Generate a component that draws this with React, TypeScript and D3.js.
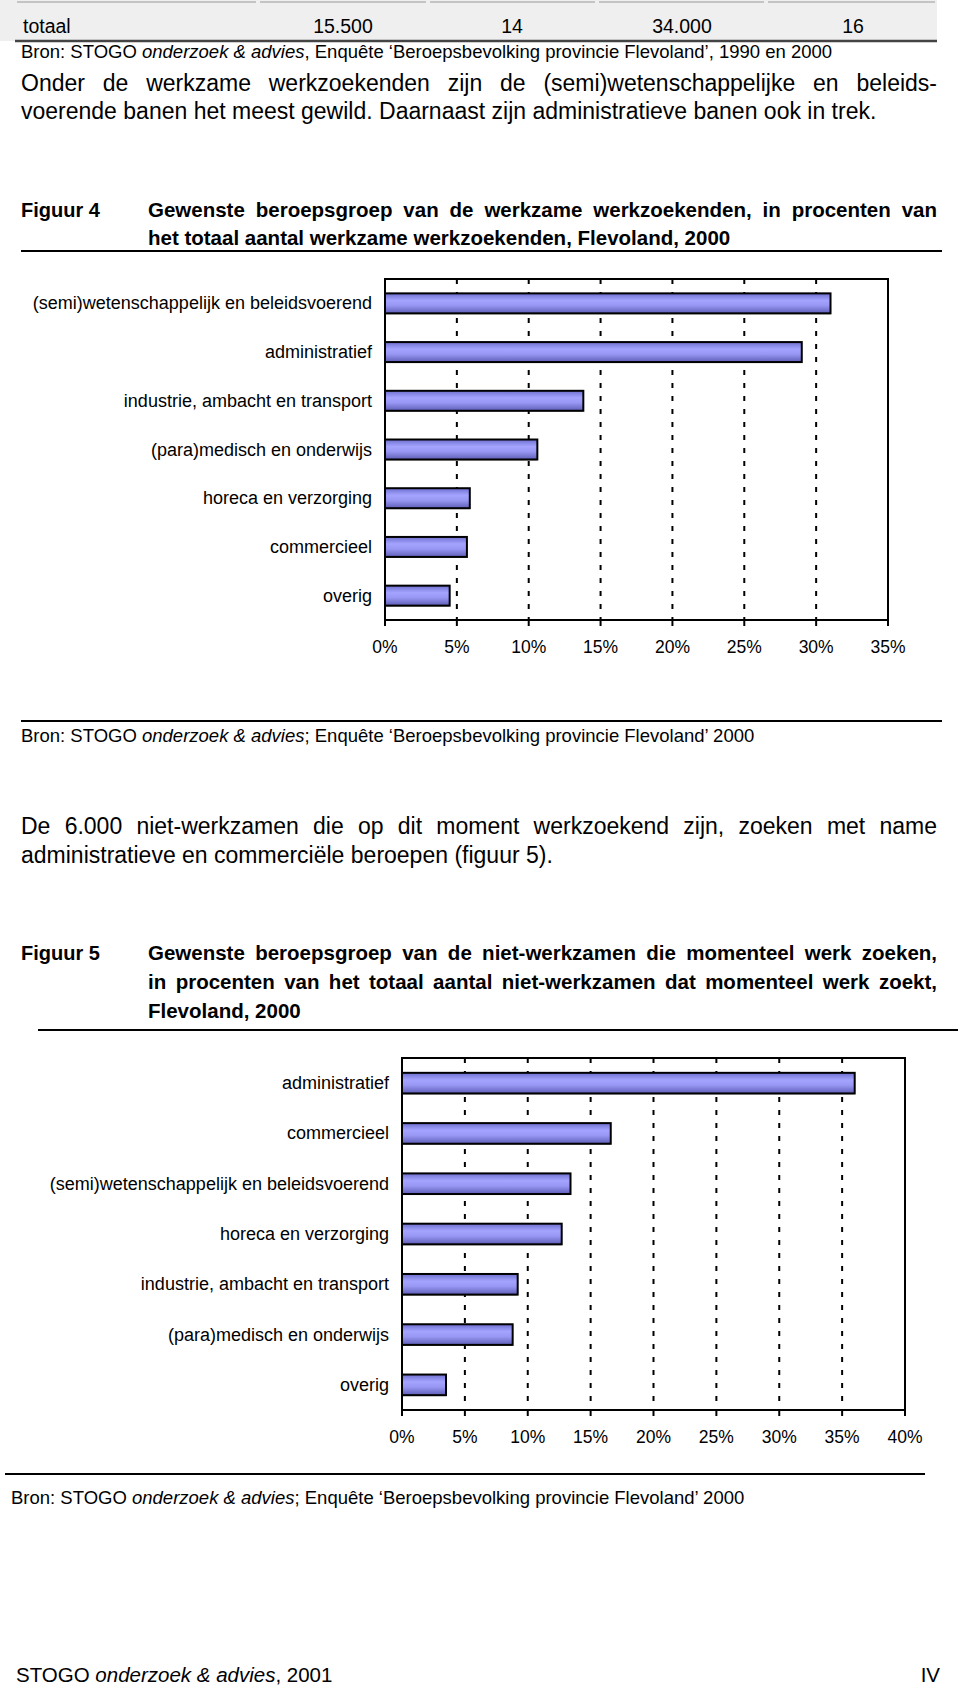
import React from "react";
import { scaleLinear, scaleBand } from "d3";

const width = 960;
const height = 1688;
const font = "'Liberation Sans', Arial, sans-serif";

// top table row
const totalRow = ["totaal", "15.500", "14", "34.000", "16"];
const totalColX = [23, 343, 512, 682, 853];
const totalColEdges = [15, 258, 428, 597, 766, 937];

// figuur 4
const fig4Categories = [
  "(semi)wetenschappelijk en beleidsvoerend",
  "administratief",
  "industrie, ambacht en transport",
  "(para)medisch en onderwijs",
  "horeca en verzorging",
  "commercieel",
  "overig",
];
const fig4Values = [31.0, 29.0, 13.8, 10.6, 5.9, 5.7, 4.5];
const fig4Ticks = [0, 5, 10, 15, 20, 25, 30, 35];

// figuur 5
const fig5Categories = [
  "administratief",
  "commercieel",
  "(semi)wetenschappelijk en beleidsvoerend",
  "horeca en verzorging",
  "industrie, ambacht en transport",
  "(para)medisch en onderwijs",
  "overig",
];
const fig5Values = [36.0, 16.6, 13.4, 12.7, 9.2, 8.8, 3.5];
const fig5Ticks = [0, 5, 10, 15, 20, 25, 30, 35, 40];

let ctx: CanvasRenderingContext2D | null = null;
const measure = (text: string, f: string) => {
  if (!ctx) ctx = document.createElement("canvas").getContext("2d");
  ctx!.font = f;
  return ctx!.measureText(text).width;
};

// justified line: spread the extra room over the word gaps
const Justified = ({ text, x, x2, y, size, bold = false }: any) => {
  const natural = measure(text, `${bold ? "bold " : ""}${size}px 'Liberation Sans'`);
  const gaps = text.split(" ").length - 1;
  const ws = gaps > 0 ? (x2 - x - natural) / gaps : 0;
  return (
    <text x={x} y={y} fontSize={size} fontWeight={bold ? "bold" : "normal"} style={{ wordSpacing: `${ws}px` }}>
      {text}
    </text>
  );
};

const Bron = ({ x, y, rest }: any) => (
  <text x={x} y={y} fontSize={18.5}>
    Bron: STOGO <tspan fontStyle="italic">onderzoek &amp; advies</tspan>
    {rest}
  </text>
);

const BarChart = ({ categories, values, ticks, left, right, top, bottom }: any) => {
  const x = scaleLinear().domain([0, ticks[ticks.length - 1]]).range([left, right]);
  const y = scaleBand().domain(categories).range([top, bottom]).paddingInner(0.59).paddingOuter(0.295);
  return (
    <g>
      {ticks.slice(1, -1).map((t: number) => (
        <line key={t} x1={x(t)} x2={x(t)} y1={top} y2={bottom} stroke="#000" strokeWidth={2} strokeDasharray="5,8" />
      ))}
      {categories.map((c: string, i: number) => (
        <g key={c}>
          <rect x={x(0)} y={y(c)! + 1} width={x(values[i]) - x(0)} height={y.bandwidth()} fill="#333" opacity={0.5} />
          <rect
            x={x(0)}
            y={y(c)}
            width={x(values[i]) - x(0)}
            height={y.bandwidth()}
            fill="url(#barGrad)"
            stroke="#000"
            strokeWidth={2}
          />
          <text x={left - 13} y={y(c)! + y.bandwidth() / 2 + 6} textAnchor="end" fontSize={18}>
            {c}
          </text>
        </g>
      ))}
      <rect x={left} y={top} width={right - left} height={bottom - top} fill="none" stroke="#000" strokeWidth={2} />
      {ticks.map((t: number) => (
        <g key={t}>
          <line x1={x(t)} x2={x(t)} y1={bottom} y2={bottom + 6} stroke="#000" strokeWidth={2} />
          <text x={x(t)} y={bottom + 33} textAnchor="middle" fontSize={17.5}>
            {t}%
          </text>
        </g>
      ))}
    </g>
  );
};

export default function App() {
  return (
    <div style={{ position: "absolute", left: 0, top: 0 }}>
      <svg width={width} height={height} fontFamily={font} style={{ display: "block", background: "#fff" }}>
        <defs>
          <linearGradient id="barGrad" x1="0" y1="0" x2="0" y2="1">
            <stop offset="0%" stopColor="#6e6ecf" />
            <stop offset="35%" stopColor="#a4a4ff" />
            <stop offset="60%" stopColor="#9898f4" />
            <stop offset="100%" stopColor="#5e5eb8" />
          </linearGradient>
        </defs>

        {/* table tail */}
        <rect x={0} y={0} width={937} height={41} fill="#efefef" />
        {totalColEdges.slice(0, -1).map((e, i) => (
          <line key={e} x1={e + 2} x2={totalColEdges[i + 1] - 2} y1={2} y2={2} stroke="#c4c4c4" strokeWidth={2} />
        ))}
        <line x1={15} x2={937} y1={41} y2={41} stroke="#444" strokeWidth={2.5} />
        {totalRow.map((t, i) => (
          <text key={i} x={totalColX[i]} y={33} fontSize={19.5} textAnchor={i === 0 ? "start" : "middle"}>
            {t}
          </text>
        ))}
        <Bron x={21} y={58} rest=", Enquête ‘Beroepsbevolking provincie Flevoland’, 1990 en 2000" />

        <Justified text="Onder de werkzame werkzoekenden zijn de (semi)wetenschappelijke en beleids-" x={21} x2={937} y={91} size={23} />
        <text x={21} y={119} fontSize={23}>
          voerende banen het meest gewild. Daarnaast zijn administratieve banen ook in trek.
        </text>

        {/* figuur 4 */}
        <text x={21} y={217} fontSize={20} fontWeight="bold">Figuur 4</text>
        <Justified text="Gewenste beroepsgroep van de werkzame werkzoekenden, in procenten van" x={148} x2={937} y={217} size={20.5} bold />
        <text x={148} y={245} fontSize={20.5} fontWeight="bold">
          het totaal aantal werkzame werkzoekenden, Flevoland, 2000
        </text>
        <line x1={21} x2={942} y1={251} y2={251} stroke="#000" strokeWidth={2} />

        <BarChart categories={fig4Categories} values={fig4Values} ticks={fig4Ticks} left={385} right={888} top={279} bottom={620} />

        <line x1={21} x2={942} y1={721} y2={721} stroke="#000" strokeWidth={2} />
        <Bron x={21} y={742} rest="; Enquête ‘Beroepsbevolking provincie Flevoland’ 2000" />

        <Justified text="De 6.000 niet-werkzamen die op dit moment werkzoekend zijn, zoeken met name" x={21} x2={937} y={834} size={23} />
        <text x={21} y={863} fontSize={23}>
          administratieve en commerciële beroepen (figuur 5).
        </text>

        {/* figuur 5 */}
        <text x={21} y={960} fontSize={20} fontWeight="bold">Figuur 5</text>
        <Justified text="Gewenste beroepsgroep van de niet-werkzamen die momenteel werk zoeken," x={148} x2={937} y={960} size={20.5} bold />
        <Justified text="in procenten van het totaal aantal niet-werkzamen dat momenteel werk zoekt," x={148} x2={937} y={989} size={20.5} bold />
        <text x={148} y={1018} fontSize={20.5} fontWeight="bold">Flevoland, 2000</text>
        <line x1={38} x2={958} y1={1030} y2={1030} stroke="#000" strokeWidth={2} />

        <BarChart categories={fig5Categories} values={fig5Values} ticks={fig5Ticks} left={402} right={905} top={1058} bottom={1410} />

        <line x1={5} x2={925} y1={1474} y2={1474} stroke="#000" strokeWidth={2} />
        <Bron x={11} y={1504} rest="; Enquête ‘Beroepsbevolking provincie Flevoland’ 2000" />

        {/* footer */}
        <text x={16} y={1682} fontSize={20.5}>
          STOGO <tspan fontStyle="italic">onderzoek &amp; advies</tspan>, 2001
        </text>
        <text x={940} y={1682} fontSize={20.5} textAnchor="end">IV</text>
      </svg>
    </div>
  );
}
